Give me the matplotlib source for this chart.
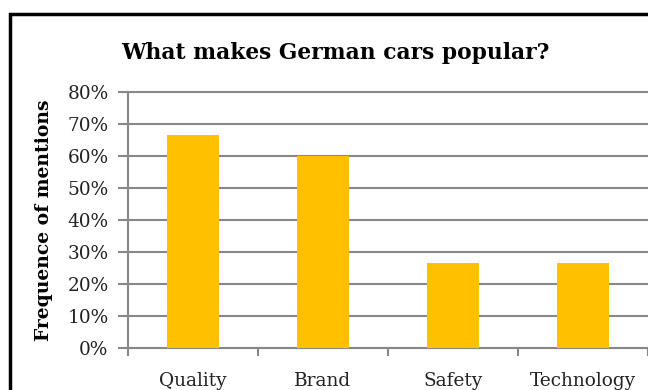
import matplotlib
matplotlib.use("Agg")
import matplotlib.pyplot as plt
from matplotlib.patches import Rectangle

categories = ["Quality", "Brand", "Safety", "Technology"]
values = [66.7, 60.0, 26.7, 26.7]
yticks = [0, 10, 20, 30, 40, 50, 60, 70, 80]
ytick_labels = [f"{v}%" for v in yticks]

W, H = 648, 390
fig = plt.figure(figsize=(W / 100, H / 100), dpi=100)
serif = "DejaVu Serif"

ax = fig.add_axes([128 / W, (H - 348) / H, (648 - 128) / W, (348 - 92) / H])
x = list(range(len(categories)))
ax.bar(x, values, width=0.4, color="#FFC000", zorder=3)
ax.set_xlim(-0.5, len(categories) - 0.5)
ax.set_ylim(0, 80)
ax.set_yticks(yticks)
ax.set_yticklabels(ytick_labels, fontfamily=serif, fontsize=13.3, color="#222222")
ax.set_xticks([i - 0.5 for i in range(len(categories) + 1)], minor=False)
ax.set_xticklabels([])
ax.set_xticks(x, minor=True)
ax.set_xticklabels(categories, minor=True, fontfamily=serif, fontsize=13.3, color="#222222")
ax.tick_params(axis="x", which="minor", length=0, pad=17)
ax.tick_params(axis="x", which="major", length=6, width=1.5, color="#888888")
ax.tick_params(axis="y", length=7, width=1.5, color="#888888", pad=7)
ax.yaxis.grid(True, color="#888888", linewidth=1.5, zorder=0)
for gl in ax.get_ygridlines():
    gl.set_clip_on(False)
for s in ["top", "right"]:
    ax.spines[s].set_visible(False)
for s in ["left", "bottom"]:
    ax.spines[s].set_color("#888888")
    ax.spines[s].set_linewidth(1.5)

fig.text(44 / W, (H - 220) / H, "Frequence of mentions", rotation=90, ha="center", va="center",
         fontfamily=serif, fontweight="bold", fontsize=13.5)

fig.text(335 / W, (H - 53) / H, "What makes German cars popular?", ha="center", va="center",
         fontfamily=serif, fontweight="bold", fontsize=15.7)

fig.patches.append(Rectangle((10 / W, -0.1), 1.2, (H - 14) / H + 0.1, transform=fig.transFigure,
                             fill=False, edgecolor="black", linewidth=2.5, zorder=10))

fig.savefig("out.png", dpi=100)
